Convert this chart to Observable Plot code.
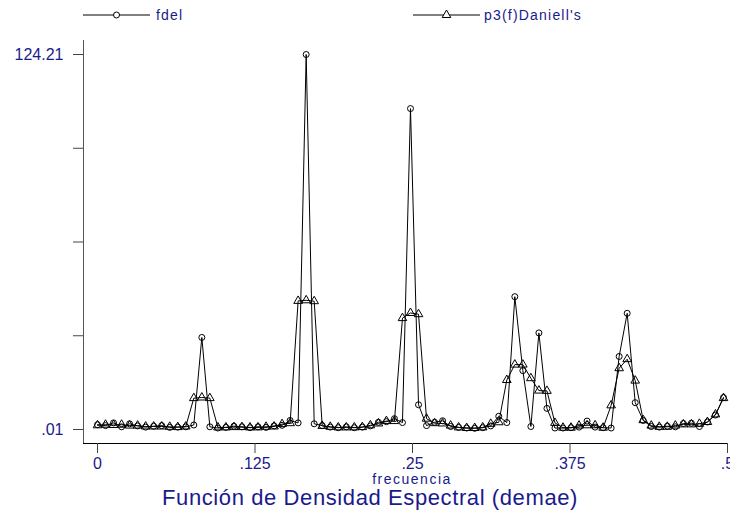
<!DOCTYPE html>
<html>
<head>
<meta charset="utf-8">
<script src="https://cdn.jsdelivr.net/npm/d3@7"></script>
<script src="https://cdn.jsdelivr.net/npm/@observablehq/plot@0.6"></script>
<style>
  body { margin: 0; background: #fff; }
  #wrap { position: relative; width: 730px; height: 512px; font-family: "Liberation Sans", Arial, sans-serif; color: #1a1a8c; overflow: hidden; }
  #legend { position: absolute; left: 0; top: 0; }
  #chart { position: absolute; left: 0; top: 30px; }
  .lab { position: absolute; white-space: nowrap; line-height: 1; }
  #xlabel { left: 312px; width: 200px; text-align: center; top: 473px; font-size: 14px; line-height: 13px; letter-spacing: 1.5px; }
  #title { left: 70px; width: 600px; text-align: center; top: 487px; font-size: 22px; line-height: 21px; letter-spacing: 0.6px; }
</style>
</head>
<body>
<div id="wrap">
  <svg id="legend" width="730" height="30"></svg>
  <div id="chart"></div>
  <div id="xlabel" class="lab">frecuencia</div>
  <div id="title" class="lab">Función de Densidad Espectral (demae)</div>
</div>
<script>
// Periodogram ordinates (circles), index k = 0..78
const fdel = [
  1.6, 1.3, 2.2, 0.9, 1.9, 1.2, 0.8, 1.1, 1.3, 0.7,
  0.8, 0.9, 1.5, 30.5, 0.9, 0.5, 0.7, 1.1, 0.9, 0.6,
  0.9, 0.7, 1.2, 1.4, 3.0, 2.2, 124.21, 1.9, 1.3, 0.8,
  0.6, 0.9, 0.6, 0.8, 1.2, 2.4, 2.6, 3.6, 2.3, 106.3,
  8.2, 1.3, 2.4, 2.9, 1.0, 0.7, 0.5, 0.4, 0.6, 1.2,
  4.4, 2.3, 44.0, 19.5, 1.0, 32.0, 7.0, 0.5, 0.5, 0.6,
  0.8, 2.8, 0.8, 0.6, 0.5, 24.2, 38.5, 8.9, 3.0, 1.0,
  0.8, 1.1, 0.9, 2.0, 2.1, 1.0, 2.5, 4.8, 10.6
];
// Daniell-smoothed spectrum (triangles)
const p3 = [
  1.4, 1.6, 1.5, 1.6, 1.3, 1.3, 1.0, 1.0, 1.0, 0.9,
  0.8, 1.0, 10.4, 10.6, 10.4, 0.7, 0.7, 0.8, 0.8, 0.7,
  0.7, 0.9, 1.0, 1.8, 2.1, 42.6, 42.8, 42.5, 1.2, 0.9,
  0.7, 0.7, 0.7, 0.8, 1.4, 2.0, 2.8, 2.8, 36.9, 38.6,
  38.2, 3.6, 2.1, 2.0, 1.3, 0.7, 0.5, 0.5, 0.7, 1.9,
  2.4, 16.4, 21.5, 21.5, 17.0, 12.9, 12.8, 2.2, 0.6, 0.6,
  1.3, 1.4, 1.4, 0.6, 8.0, 20.3, 23.3, 16.2, 3.1, 1.3,
  0.9, 0.9, 1.3, 1.7, 1.7, 1.9, 2.5, 5.0, 10.4
];
const nObs = 157; // Fourier frequencies k / nObs
const xTicks = [0, 0.125, 0.25, 0.375, 0.5];
const xTickLabels = ["0", ".125", ".25", ".375", ".5"];
const yTicks = [0.01, 31.06, 62.11, 93.16, 124.21];
const yTickLabels = [".01", "", "", "", "124.21"];
const seriesNames = ["fdel", "p3(f)Daniell's"];

const navy = "#1a1a8c";
const data = fdel.map((v, k) => ({ f: k / nObs, fdel: v, p3: p3[k] }));
const xLab = new Map(xTicks.map((t, i) => [t, xTickLabels[i]]));
const yLab = new Map(yTicks.map((t, i) => [t, yTickLabels[i]]));

const chart = Plot.plot({
  width: 730,
  height: 440,
  marginLeft: 83,
  marginRight: 3,
  marginTop: 10,
  marginBottom: 27,
  x: { domain: [0, 0.5], insetLeft: 14 },
  y: { domain: [0.01, 124.21], insetTop: 14, insetBottom: 14 },
  style: { fontFamily: '"Liberation Sans", Arial, sans-serif', overflow: "visible", background: "white" },
  marks: [
    Plot.frame({ anchor: "left", stroke: "#555" }),
    Plot.frame({ anchor: "bottom", stroke: "#000" }),
    Plot.axisY(yTicks, { anchor: "left", tickSize: 10, tickPadding: 10, tickFormat: d => yLab.get(d), fontSize: 16, fill: navy, stroke: "#444", label: null }),
    Plot.axisX(xTicks, { anchor: "bottom", tickSize: 10, tickPadding: 4, tickFormat: d => xLab.get(d), fontSize: 16, fill: navy, stroke: "#444", label: null }),
    Plot.line(data, { x: "f", y: "p3", stroke: "black", strokeWidth: 1 }),
    Plot.line(data, { x: "f", y: "fdel", stroke: "black", strokeWidth: 1 }),
    Plot.dot(data, { x: "f", y: "p3", symbol: "triangle", r: 3.2, stroke: "black", strokeWidth: 1, fill: "none" }),
    Plot.dot(data, { x: "f", y: "fdel", symbol: "circle", r: 3, stroke: "black", strokeWidth: 1, fill: "none" })
  ]
});
document.getElementById("chart").appendChild(chart);

// legend
const lg = d3.select("#legend");
const items = [
  { name: seriesNames[0], x0: 83, x1: 150, sym: d3.symbolCircle, tx: 156 },
  { name: seriesNames[1], x0: 413, x1: 480, sym: d3.symbolTriangle, tx: 484 }
];
items.forEach((it, i) => {
  const cy = 15;
  lg.append("line").attr("x1", it.x0).attr("x2", it.x1).attr("y1", cy).attr("y2", cy).attr("stroke", "black");
  const sz = i === 0 ? Math.PI * 9 : Math.PI * 3.2 * 3.2;
  lg.append("path").attr("d", d3.symbol(it.sym, sz)()).attr("transform", `translate(${(it.x0 + it.x1) / 2},${cy})`)
    .attr("fill", "white").attr("stroke", "black");
  lg.append("text").attr("x", it.tx).attr("y", cy).attr("dy", "0.35em").attr("fill", navy)
    .attr("font-size", 14).attr("letter-spacing", "1.2px").attr("font-family", '"Liberation Sans", Arial, sans-serif').text(it.name);
});
</script>
</body>
</html>
